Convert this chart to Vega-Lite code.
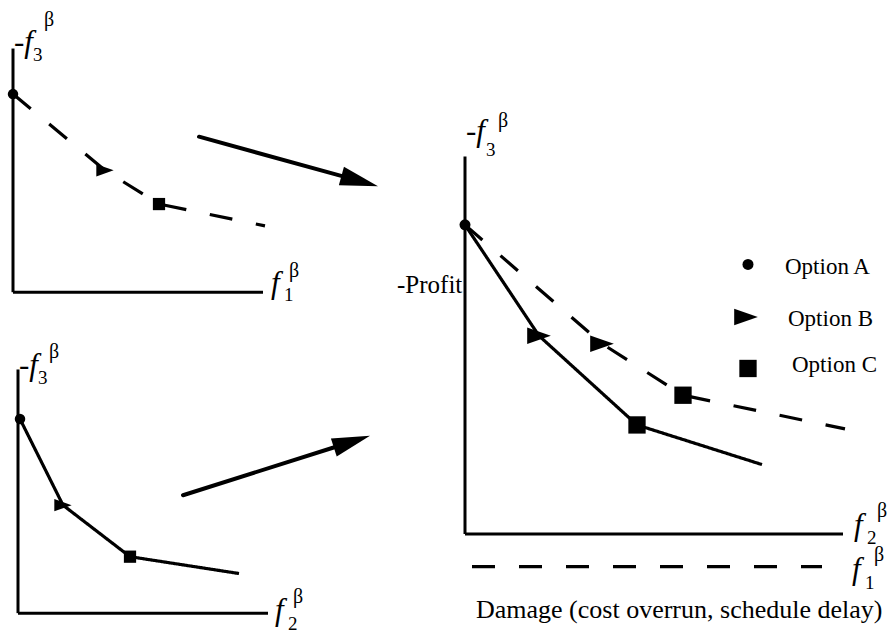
{
  "$schema": "https://vega.github.io/schema/vega-lite/v6.json",
  "width": 891,
  "height": 634,
  "padding": 0,
  "autosize": {"type": "fit", "contains": "padding"},
  "background": "white",
  "config": {"view": {"stroke": null}},
  "datasets": {
    "segments": [
      {"kind": "axis", "x": 13, "y": 49, "x2": 13, "y2": 295},
      {"kind": "axis", "x": 13, "y": 295, "x2": 263, "y2": 295},
      {"kind": "axis", "x": 18, "y": 373, "x2": 18, "y2": 619},
      {"kind": "axis", "x": 18, "y": 619, "x2": 268, "y2": 619},
      {"kind": "axis", "x": 465, "y": 158, "x2": 465, "y2": 539},
      {"kind": "axis", "x": 465, "y": 539, "x2": 843, "y2": 539},
      {"kind": "shaft", "x": 199, "y": 138, "x2": 343, "y2": 178},
      {"kind": "shaft", "x": 183, "y": 500, "x2": 336, "y2": 451}
    ],
    "curves": [
      {"curve": "top-left", "front": "f1", "x": 13, "y": 95},
      {"curve": "top-left", "front": "f1", "x": 105, "y": 172},
      {"curve": "top-left", "front": "f1", "x": 159, "y": 206},
      {"curve": "top-left", "front": "f1", "x": 265, "y": 228},
      {"curve": "bottom-left", "front": "f2", "x": 20, "y": 423},
      {"curve": "bottom-left", "front": "f2", "x": 63, "y": 510},
      {"curve": "bottom-left", "front": "f2", "x": 130, "y": 562},
      {"curve": "bottom-left", "front": "f2", "x": 239, "y": 579},
      {"curve": "right-f2", "front": "f2", "x": 465, "y": 227},
      {"curve": "right-f2", "front": "f2", "x": 539, "y": 339},
      {"curve": "right-f2", "front": "f2", "x": 637, "y": 429},
      {"curve": "right-f2", "front": "f2", "x": 762, "y": 469},
      {"curve": "right-f1", "front": "f1", "x": 465, "y": 227},
      {"curve": "right-f1", "front": "f1", "x": 602, "y": 347},
      {"curve": "right-f1", "front": "f1", "x": 683, "y": 399},
      {"curve": "right-f1", "front": "f1", "x": 845, "y": 433},
      {"curve": "f1-key", "front": "f1", "x": 472, "y": 572},
      {"curve": "f1-key", "front": "f1", "x": 822, "y": 572}
    ],
    "markers": [
      {"group": "left", "option": "A", "x": 13, "y": 95},
      {"group": "left", "option": "B", "x": 105, "y": 172},
      {"group": "left", "option": "C", "x": 159, "y": 206},
      {"group": "left", "option": "A", "x": 20, "y": 423},
      {"group": "left", "option": "B", "x": 63, "y": 510},
      {"group": "left", "option": "C", "x": 130, "y": 562},
      {"group": "right", "option": "A", "x": 465, "y": 227},
      {"group": "right", "option": "B", "x": 539, "y": 339},
      {"group": "right", "option": "C", "x": 637, "y": 429},
      {"group": "right", "option": "B", "x": 602, "y": 347},
      {"group": "right", "option": "C", "x": 683, "y": 399},
      {"group": "right", "option": "A", "x": 748, "y": 267},
      {"group": "right", "option": "B", "x": 746, "y": 320},
      {"group": "right", "option": "C", "x": 748, "y": 372}
    ],
    "heads": [
      {"x": 378, "y": 188, "heading": 15.6},
      {"x": 370, "y": 440, "heading": -17.8}
    ],
    "labels": [
      {"role": "var", "text": "-f", "x": 14, "y": 53},
      {"role": "var", "text": "-f", "x": 19, "y": 379},
      {"role": "var", "text": "-f", "x": 466, "y": 142},
      {"role": "var", "text": "f", "x": 271, "y": 296},
      {"role": "var", "text": "f", "x": 275, "y": 626},
      {"role": "var", "text": "f", "x": 854, "y": 540},
      {"role": "var", "text": "f", "x": 852, "y": 585},
      {"role": "sub", "text": "3", "x": 33, "y": 62},
      {"role": "sub", "text": "3", "x": 38, "y": 388},
      {"role": "sub", "text": "3", "x": 486, "y": 157},
      {"role": "sub", "text": "1", "x": 284, "y": 304},
      {"role": "sub", "text": "2", "x": 288, "y": 636},
      {"role": "sub", "text": "2", "x": 867, "y": 549},
      {"role": "sub", "text": "1", "x": 865, "y": 595},
      {"role": "sup", "text": "β", "x": 44, "y": 26},
      {"role": "sup", "text": "β", "x": 49, "y": 361},
      {"role": "sup", "text": "β", "x": 498, "y": 128},
      {"role": "sup", "text": "β", "x": 289, "y": 280},
      {"role": "sup", "text": "β", "x": 293, "y": 609},
      {"role": "sup", "text": "β", "x": 877, "y": 522},
      {"role": "sup", "text": "β", "x": 874, "y": 566},
      {"role": "label", "text": "-Profit", "x": 397, "y": 296},
      {"role": "caption", "text": "Damage (cost overrun, schedule delay)", "x": 476, "y": 624},
      {"role": "legend", "text": "Option A", "x": 785, "y": 277},
      {"role": "legend", "text": "Option B", "x": 788, "y": 329},
      {"role": "legend", "text": "Option C", "x": 792, "y": 376}
    ]
  },
  "layer": [
    {
      "data": {"name": "segments"},
      "transform": [{"filter": "datum.kind === 'axis'"}],
      "mark": {"type": "rule", "color": "black", "strokeWidth": 3},
      "encoding": {
        "x": {"field": "x", "type": "quantitative", "scale": {"domain": [0, 891], "nice": false, "zero": false}, "axis": null},
        "y": {"field": "y", "type": "quantitative", "scale": {"domain": [0, 634], "nice": false, "zero": false, "reverse": true}, "axis": null},
        "x2": {"field": "x2"},
        "y2": {"field": "y2"}
      }
    },
    {
      "data": {"name": "segments"},
      "transform": [{"filter": "datum.kind === 'shaft'"}],
      "mark": {"type": "rule", "color": "black", "strokeWidth": 4, "strokeCap": "round"},
      "encoding": {
        "x": {"field": "x", "type": "quantitative", "axis": null},
        "y": {"field": "y", "type": "quantitative", "axis": null},
        "x2": {"field": "x2"},
        "y2": {"field": "y2"}
      }
    },
    {
      "data": {"name": "curves"},
      "mark": {"type": "line", "color": "black", "strokeWidth": 3.2},
      "encoding": {
        "x": {"field": "x", "type": "quantitative", "axis": null},
        "y": {"field": "y", "type": "quantitative", "axis": null},
        "detail": {"field": "curve", "type": "nominal"},
        "strokeDash": {"field": "front", "type": "nominal", "scale": {"domain": ["f1", "f2"], "range": [[23, 24], [1, 0]]}, "legend": null}
      }
    },
    {
      "data": {"name": "markers"},
      "transform": [{"filter": "datum.group === 'left' && datum.option === 'A'"}],
      "mark": {"type": "point", "filled": true, "color": "black", "opacity": 1, "shape": "circle", "size": 110},
      "encoding": {
        "x": {"field": "x", "type": "quantitative", "axis": null},
        "y": {"field": "y", "type": "quantitative", "axis": null}
      }
    },
    {
      "data": {"name": "markers"},
      "transform": [{"filter": "datum.group === 'left' && datum.option === 'B'"}],
      "mark": {"type": "point", "filled": true, "color": "black", "opacity": 1, "shape": "M-1,-0.7L1,0L-1,0.7Z", "size": 300},
      "encoding": {
        "x": {"field": "x", "type": "quantitative", "axis": null},
        "y": {"field": "y", "type": "quantitative", "axis": null}
      }
    },
    {
      "data": {"name": "markers"},
      "transform": [{"filter": "datum.group === 'left' && datum.option === 'C'"}],
      "mark": {"type": "point", "filled": true, "color": "black", "opacity": 1, "shape": "square", "size": 150},
      "encoding": {
        "x": {"field": "x", "type": "quantitative", "axis": null},
        "y": {"field": "y", "type": "quantitative", "axis": null}
      }
    },
    {
      "data": {"name": "markers"},
      "transform": [{"filter": "datum.group === 'right' && datum.option === 'A'"}],
      "mark": {"type": "point", "filled": true, "color": "black", "opacity": 1, "shape": "circle", "size": 121},
      "encoding": {
        "x": {"field": "x", "type": "quantitative", "axis": null},
        "y": {"field": "y", "type": "quantitative", "axis": null}
      }
    },
    {
      "data": {"name": "markers"},
      "transform": [{"filter": "datum.group === 'right' && datum.option === 'B'"}],
      "mark": {"type": "point", "filled": true, "color": "black", "opacity": 1, "shape": "M-1,-0.7L1,0L-1,0.7Z", "size": 560},
      "encoding": {
        "x": {"field": "x", "type": "quantitative", "axis": null},
        "y": {"field": "y", "type": "quantitative", "axis": null}
      }
    },
    {
      "data": {"name": "markers"},
      "transform": [{"filter": "datum.group === 'right' && datum.option === 'C'"}],
      "mark": {"type": "point", "filled": true, "color": "black", "opacity": 1, "shape": "square", "size": 300},
      "encoding": {
        "x": {"field": "x", "type": "quantitative", "axis": null},
        "y": {"field": "y", "type": "quantitative", "axis": null}
      }
    },
    {
      "data": {"name": "heads"},
      "mark": {"type": "point", "filled": true, "color": "black", "opacity": 1, "shape": "M0,0L-2,-0.5L-2,0.5Z", "size": 1444},
      "encoding": {
        "x": {"field": "x", "type": "quantitative", "axis": null},
        "y": {"field": "y", "type": "quantitative", "axis": null},
        "angle": {"field": "heading", "type": "quantitative", "scale": null}
      }
    },
    {
      "data": {"name": "labels"},
      "transform": [{"filter": "datum.role === 'var'"}],
      "mark": {"type": "text", "font": "Liberation Serif", "fontStyle": "italic", "fontSize": 31, "align": "left", "baseline": "alphabetic", "color": "black"},
      "encoding": {
        "x": {"field": "x", "type": "quantitative", "axis": null},
        "y": {"field": "y", "type": "quantitative", "axis": null},
        "text": {"field": "text"}
      }
    },
    {
      "data": {"name": "labels"},
      "transform": [{"filter": "datum.role === 'sub'"}],
      "mark": {"type": "text", "font": "Liberation Serif", "fontSize": 19, "align": "left", "baseline": "alphabetic", "color": "black"},
      "encoding": {
        "x": {"field": "x", "type": "quantitative", "axis": null},
        "y": {"field": "y", "type": "quantitative", "axis": null},
        "text": {"field": "text"}
      }
    },
    {
      "data": {"name": "labels"},
      "transform": [{"filter": "datum.role === 'sup'"}],
      "mark": {"type": "text", "font": "Liberation Serif", "fontSize": 20, "align": "left", "baseline": "alphabetic", "color": "black"},
      "encoding": {
        "x": {"field": "x", "type": "quantitative", "axis": null},
        "y": {"field": "y", "type": "quantitative", "axis": null},
        "text": {"field": "text"}
      }
    },
    {
      "data": {"name": "labels"},
      "transform": [{"filter": "datum.role === 'label'"}],
      "mark": {"type": "text", "font": "Liberation Serif", "fontSize": 25, "align": "left", "baseline": "alphabetic", "color": "black"},
      "encoding": {
        "x": {"field": "x", "type": "quantitative", "axis": null},
        "y": {"field": "y", "type": "quantitative", "axis": null},
        "text": {"field": "text"}
      }
    },
    {
      "data": {"name": "labels"},
      "transform": [{"filter": "datum.role === 'caption'"}],
      "mark": {"type": "text", "font": "Liberation Serif", "fontSize": 26, "align": "left", "baseline": "alphabetic", "color": "black"},
      "encoding": {
        "x": {"field": "x", "type": "quantitative", "axis": null},
        "y": {"field": "y", "type": "quantitative", "axis": null},
        "text": {"field": "text"}
      }
    },
    {
      "data": {"name": "labels"},
      "transform": [{"filter": "datum.role === 'legend'"}],
      "mark": {"type": "text", "font": "Liberation Serif", "fontSize": 23, "align": "left", "baseline": "alphabetic", "color": "black"},
      "encoding": {
        "x": {"field": "x", "type": "quantitative", "axis": null},
        "y": {"field": "y", "type": "quantitative", "axis": null},
        "text": {"field": "text"}
      }
    }
  ]
}
